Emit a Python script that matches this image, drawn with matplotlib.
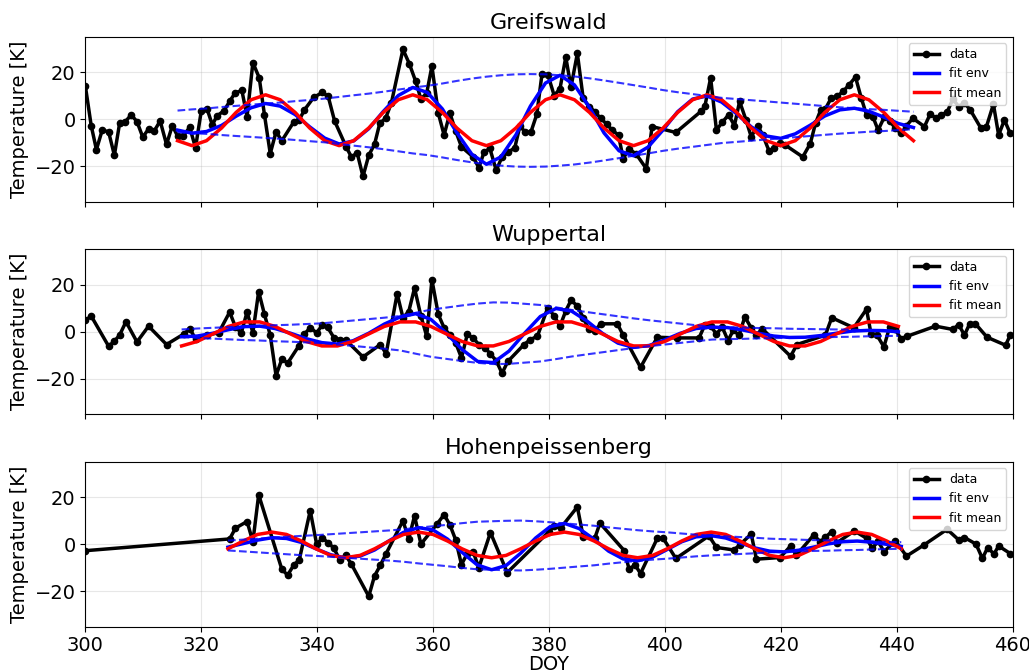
import matplotlib
matplotlib.use("Agg")
import matplotlib.pyplot as plt

# ---------------------------------------------------------------- data
stations = ["Greifswald", "Wuppertal", "Hohenpeissenberg"]

# observed temperature anomalies (DOY, K)
gw_doy = [300.0, 301.0, 301.9, 302.9, 304.0, 305.0, 305.9, 306.9, 307.9, 308.9, 309.9, 310.9, 311.9,
          312.9, 314.0, 315.0, 315.9, 316.9, 318.0, 319.0, 320.0, 321.0, 321.9, 322.7, 323.9, 324.9,
          325.8, 327.0, 327.9, 328.9, 330.0, 330.9, 331.9, 332.9, 333.9, 336.0, 336.9, 337.8, 339.4,
          340.9, 341.9, 343.0, 345.0, 345.9, 346.9, 347.9, 348.9, 349.9, 350.8, 351.8, 352.8, 354.8,
          355.9, 357.0, 357.9, 358.9, 359.8, 360.9, 361.9, 362.9, 363.9, 364.9, 366.9, 367.9, 368.8,
          369.8, 370.9, 371.9, 372.9, 374.1, 375.0, 375.9, 376.9, 377.9, 378.8, 379.8, 380.9, 381.9,
          382.9, 383.8, 384.9, 385.9, 386.9, 387.9, 388.9, 390.0, 390.9, 392.0, 392.8, 393.8, 395.0,
          396.8, 397.8, 401.9, 406.3, 406.9, 407.9, 408.9, 409.9, 411.0, 412.0, 412.9, 414.0, 414.9,
          416.0, 416.9, 418.0, 418.8, 419.9, 420.8, 423.8, 425.1, 426.0, 426.9, 427.7, 428.7, 429.7,
          430.8, 431.8, 432.9, 433.9, 434.8, 435.9, 436.8, 437.9, 438.8, 439.8, 440.8, 441.7, 442.8,
          444.8, 445.8, 446.8, 447.7, 448.7, 449.7, 450.7, 451.7, 452.7, 454.5, 455.5, 456.7, 457.6,
          458.6, 459.6]
gw_temp = [14.0, -2.7, -12.9, -4.6, -5.3, -15.3, -1.7, -1.0, 1.9, -1.0, -7.6, -4.1, -4.9,
           -0.7, -10.7, -2.7, -7.1, -7.0, -3.4, -12.1, 3.6, 4.4, -2.4, 1.4, 3.6, 7.6,
           11.1, 12.3, 1.1, 24.1, 17.6, 1.9, -14.6, -5.3, -9.1, -1.0, -0.3, 4.0, 9.3,
           11.4, 9.7, -0.7, -11.7, -16.0, -14.3, -24.3, -15.3, -10.6, -1.7, 0.4, 6.9, 29.7,
           23.6, 16.1, 8.6, 11.1, 22.6, 2.6, -6.7, 2.6, -5.0, -11.7, -16.0, -20.6, -13.9,
           -12.4, -21.7, -16.0, -14.1, -12.1, -2.7, -5.6, -5.3, 2.1, 19.3, 19.0, 10.1, 13.0,
           26.4, 13.7, 28.0, 9.0, 5.4, 3.3, 0.4, -2.1, -4.6, -6.7, -16.7, -12.7, -14.6,
           -21.0, -3.1, -5.6, 3.5, 5.5, 17.6, -4.6, -1.3, 1.9, -2.7, 7.6, -0.3, -7.4,
           -2.7, -6.7, -13.6, -12.4, -9.9, -11.0, -16.0, -10.3, -1.7, 4.0, 4.4, 9.0, 9.7,
           11.9, 14.7, 17.9, 9.0, 1.9, 1.1, -4.6, 1.1, -0.7, -3.9, -6.0, -2.7, 0.4,
           -3.1, 2.3, 0.4, 1.9, 3.0, 8.6, 5.4, 6.9, 4.0, -3.6, -3.1, 6.4, -6.7,
           -0.3, -6.0]

wu_doy = [300.0, 301.0, 304.0, 305.0, 305.9, 307.0, 308.9, 310.9, 314.0, 317.0, 318.0, 319.0, 321.0,
          323.0, 324.9, 325.9, 326.9, 327.9, 328.9, 329.9, 330.9, 331.9, 332.9, 333.9, 334.9, 336.8,
          337.8, 338.8, 339.9, 340.9, 341.8, 342.9, 343.9, 344.9, 347.9, 350.9, 351.9, 353.8, 354.8,
          355.8, 356.8, 357.9, 358.9, 359.8, 360.9, 361.9, 362.9, 363.9, 364.9, 365.9, 366.9, 367.9,
          369.0, 369.9, 370.9, 371.9, 372.9, 375.7, 376.8, 378.0, 379.8, 380.9, 381.9, 382.9, 383.8,
          384.9, 385.9, 386.9, 387.9, 388.9, 391.8, 392.8, 395.8, 398.7, 402.1, 405.9, 406.9, 407.9,
          408.9, 409.9, 410.9, 411.8, 412.8, 413.8, 414.9, 415.8, 416.8, 421.7, 422.8, 427.7, 428.8,
          432.6, 434.8, 435.6, 436.6, 437.8, 438.8, 439.8, 440.7, 441.8, 446.7, 449.7, 450.7, 451.7,
          452.6, 453.6, 455.6, 458.8, 459.6]
wu_temp = [4.9, 6.7, -6.1, -4.0, -1.4, 4.3, -4.3, 2.4, -5.4, -0.9, 1.3, -2.9, -1.4,
           -0.4, 8.4, 2.0, -0.4, 8.4, -0.4, 17.1, 7.4, -1.4, -18.6, -11.6, -13.3, -6.1,
           -0.9, 1.7, -0.4, 2.9, 2.0, -2.6, -3.3, -3.4, -10.7, -5.4, -9.3, 16.2, 6.0,
           8.6, 18.6, 6.7, -1.9, 22.1, 7.4, 1.7, -1.4, -4.7, -11.1, -1.1, -2.6, -5.4,
           -6.9, -9.4, -12.3, -17.6, -12.6, -5.4, -3.3, -1.9, 10.3, 6.7, 2.4, 8.9, 13.4,
           11.0, 6.0, 1.0, 0.3, 3.4, 3.4, -1.4, -15.1, -2.3, -2.6, -2.6, 2.9, 2.4,
           -0.9, 2.0, -3.7, 0.6, -1.4, 6.3, 1.7, -1.4, 1.3, -10.4, -5.4, -1.4, 6.0,
           1.7, 9.6, -1.1, -1.4, -6.4, 2.1, 1.0, -2.9, -1.9, 2.4, 1.0, 3.1, -1.4,
           3.4, 3.4, -2.3, -5.7, -1.4]

hp_doy = [300.0, 324.9, 325.9, 327.9, 328.9, 329.9, 333.9, 334.9, 336.0, 336.9, 338.8, 339.9, 340.9,
          341.9, 342.9, 343.9, 344.9, 345.9, 348.9, 349.9, 350.9, 351.9, 354.8, 355.8, 356.8, 357.9,
          360.7, 361.9, 362.9, 363.9, 364.9, 365.9, 366.9, 367.9, 369.9, 372.8, 380.0, 380.9, 382.0,
          384.9, 385.9, 387.9, 388.8, 393.0, 393.8, 394.9, 395.8, 398.7, 399.7, 401.9, 407.6, 408.9,
          411.9, 412.9, 414.9, 415.8, 419.9, 421.7, 422.7, 425.7, 426.8, 427.7, 428.8, 429.7, 432.7,
          434.8, 435.8, 436.8, 437.8, 439.8, 441.7, 444.7, 448.7, 450.7, 451.7, 453.7, 454.8, 455.7,
          456.8, 457.6, 459.6]
hp_temp = [-2.7, 2.3, 6.9, 9.7, 1.1, 21.1, -10.6, -13.1, -8.6, -6.7, 14.3, 0.1, 2.6,
           0.7, -1.7, -6.7, -4.6, -8.4, -22.1, -13.4, -8.9, -3.9, 10.0, 2.3, 12.1, 0.1,
           8.7, 12.6, 8.3, 1.9, -8.6, -3.9, -3.1, -9.9, 5.0, -12.0, 5.4, 7.6, 6.9,
           15.9, 3.3, 2.6, 9.0, -2.7, -10.3, -8.9, -12.4, 2.6, 2.6, -6.0, 3.6, -1.3,
           -2.4, -0.3, 4.4, -6.3, -5.6, -0.7, -4.6, 4.0, 1.1, 3.0, 5.4, 0.7, 5.7,
           2.6, -1.7, 1.4, -3.1, 1.4, -5.0, -0.3, 6.4, 1.9, 2.9, 0.1, -6.0, -1.4,
           -4.1, -0.7, -3.9]

# fitted curves, sampled along the fit window (DOY, K)
gw_fit_doy = [315.9, 318.4, 320.9, 323.5, 326.0, 328.6, 331.1, 333.6, 336.2, 338.7, 341.3, 343.8, 346.3,
              348.9, 351.4, 354.0, 356.5, 359.0, 361.6, 364.1, 366.7, 369.2, 371.7, 374.3, 376.8, 379.4,
              381.9, 384.4, 387.0, 389.5, 392.1, 394.6, 397.1, 399.7, 402.2, 404.8, 407.3, 409.8, 412.4,
              414.9, 417.5, 420.0, 422.5, 425.1, 427.6, 430.2, 432.7, 435.2, 437.8, 440.3, 442.9]
gw_mean = [-9.1, -11.2, -9.1, -3.7, 2.9, 8.3, 10.4, 8.3, 2.9, -3.7,
           -9.1, -11.2, -9.1, -3.7, 2.9, 8.3, 10.4, 8.3, 2.9, -3.7,
           -9.1, -11.2, -9.1, -3.7, 2.9, 8.3, 10.4, 8.3, 2.9, -3.7,
           -9.1, -11.2, -9.1, -3.7, 2.9, 8.3, 10.4, 8.3, 2.9, -3.7,
           -9.1, -11.2, -9.1, -3.7, 2.9, 8.3, 10.4, 8.3, 2.9, -3.7, -9.1]
gw_env = [-4.6, -5.9, -5.2, -2.6, 1.3, 4.9, 6.7, 5.6, 2.0, -3.2,
          -8.0, -10.5, -9.2, -4.0, 3.3, 10.1, 13.5, 11.4, 4.4, -5.7,
          -14.9, -19.1, -16.0, -6.6, 5.6, 15.4, 18.7, 14.6, 5.0, -5.8,
          -13.4, -15.5, -11.8, -4.5, 3.2, 8.6, 9.9, 7.3, 2.3, -3.2,
          -7.1, -8.1, -6.2, -2.5, 1.4, 4.0, 4.7, 3.4, 0.9, -1.8, -3.5]
gw_env_hi = [3.7, 4.2, 4.6, 5.2, 5.7, 6.2, 6.7, 7.1, 7.7, 8.2, 8.8, 9.5, 10.2,
             10.9, 11.7, 12.6, 13.5, 14.2, 15.2, 16.3, 17.3, 18.1, 18.7, 19.1, 19.2, 19.1,
             18.7, 18.2, 17.4, 16.5, 15.5, 14.5, 13.5, 12.4, 11.5, 10.7, 9.9, 9.1, 8.6,
             8.1, 7.6, 7.1, 6.6, 6.1, 5.6, 5.1, 4.7, 4.3, 4.0, 3.6, 3.2]
gw_env_lo = [-5.5, -5.9, -6.2, -6.7, -7.1, -7.5, -7.9, -8.3, -8.8, -9.3, -9.8, -10.5, -11.2,
             -11.9, -12.7, -13.6, -14.5, -15.2, -16.2, -17.3, -18.3, -19.1, -19.7, -20.1, -20.2, -20.1,
             -19.7, -19.2, -18.4, -17.5, -16.5, -15.5, -14.5, -13.4, -12.5, -11.7, -10.9, -10.1, -9.6,
             -9.1, -8.6, -8.1, -7.6, -7.1, -6.6, -6.1, -5.7, -5.3, -5.0, -4.6, -4.2]

wu_fit_doy = [316.6, 319.3, 322.0, 324.7, 327.4, 330.1, 332.7, 335.4, 338.1, 340.8, 343.5, 346.2, 348.9,
              351.6, 354.3, 357.0, 359.6, 362.3, 365.0, 367.7, 370.4, 373.1, 375.8, 378.5, 381.2, 383.9,
              386.5, 389.2, 391.9, 394.6, 397.3, 400.0, 402.7, 405.4, 408.1, 410.8, 413.4, 416.1, 418.8,
              421.5, 424.2, 426.9, 429.6, 432.3, 435.0, 437.7, 440.3]
wu_mean = [-6.0, -4.1, -0.9, 2.3, 4.2, 4.2, 2.3, -0.9, -4.1, -6.0,
           -6.0, -4.1, -0.9, 2.3, 4.2, 4.2, 2.3, -0.9, -4.1, -6.0,
           -6.0, -4.1, -0.9, 2.3, 4.2, 4.2, 2.3, -0.9, -4.1, -6.0,
           -6.0, -4.1, -0.9, 2.3, 4.2, 4.2, 2.3, -0.9, -4.1, -6.0,
           -6.0, -4.1, -0.9, 2.3, 4.2, 4.2, 2.3]
wu_env = [-2.1, -1.8, -0.6, 0.9, 2.2, 2.4, 1.4, -0.6, -2.9, -4.6,
          -5.2, -3.8, -0.6, 3.3, 6.3, 7.7, 5.3, -0.6, -7.5, -12.6,
          -13.1, -8.2, -0.6, 6.5, 9.9, 8.8, 4.7, -0.6, -4.8, -6.6,
          -5.8, -3.4, -0.6, 1.4, 2.0, 1.8, 0.8, -0.6, -1.8, -2.4,
          -2.3, -1.6, -0.6, 0.3, 0.6, 0.5, 0.0]
wu_env_hi = [1.0, 1.4, 1.7, 2.0, 2.3, 2.5, 2.8, 3.0, 3.3, 3.6, 4.2, 4.8, 5.4,
             6.0, 6.7, 8.1, 9.4, 10.3, 11.2, 12.0, 12.5, 12.4, 11.9, 11.4, 10.4, 9.3,
             8.4, 7.5, 6.6, 5.7, 4.9, 4.2, 3.5, 2.8, 2.1, 1.9, 1.8, 1.6, 1.5,
             1.3, 1.2, 1.1, 1.0, 0.9, 0.7, 0.6, 0.5]
wu_env_lo = [-2.2, -2.6, -2.9, -3.2, -3.5, -3.7, -4.0, -4.2, -4.5, -4.8, -5.4, -6.0, -6.6,
             -7.2, -7.9, -9.3, -10.6, -11.5, -12.4, -13.2, -13.7, -13.6, -13.1, -12.6, -11.6, -10.5,
             -9.6, -8.7, -7.8, -6.9, -6.1, -5.4, -4.7, -4.0, -3.3, -3.1, -3.0, -2.8, -2.7,
             -2.5, -2.4, -2.3, -2.2, -2.1, -1.9, -1.8, -1.7]

hp_fit_doy = [324.6, 327.2, 329.7, 332.2, 334.7, 337.3, 339.8, 342.3, 344.8, 347.4, 349.9, 352.4, 354.9,
              357.5, 360.0, 362.5, 365.0, 367.6, 370.1, 372.6, 375.1, 377.7, 380.2, 382.7, 385.2, 387.8,
              390.3, 392.8, 395.3, 397.9, 400.4, 402.9, 405.4, 408.0, 410.5, 413.0, 415.5, 418.1, 420.6,
              423.1, 425.6, 428.2, 430.7, 433.2, 435.7, 438.3, 440.8]
hp_mean = [-1.9, 1.4, 4.2, 5.2, 4.2, 1.4, -1.9, -4.7, -5.7, -4.7,
           -1.9, 1.4, 4.2, 5.2, 4.2, 1.4, -1.9, -4.7, -5.7, -4.7,
           -1.9, 1.4, 4.2, 5.2, 4.2, 1.4, -1.9, -4.7, -5.7, -4.7,
           -1.9, 1.4, 4.2, 5.2, 4.2, 1.4, -1.9, -4.7, -5.7, -4.7,
           -1.9, 1.4, 4.2, 5.2, 4.2, 1.4, -1.9]
hp_env = [-1.2, 0.3, 1.8, 2.8, 2.5, 0.8, -1.9, -4.4, -5.7, -5.0,
          -2.4, 1.5, 5.1, 7.1, 6.1, 2.2, -3.4, -8.7, -10.8, -9.0,
          -3.8, 2.7, 7.5, 8.9, 6.7, 2.1, -2.9, -6.2, -7.0, -5.4,
          -2.2, 1.1, 3.2, 3.7, 2.7, 0.6, -1.5, -2.9, -3.2, -2.5,
          -1.2, 0.2, 1.1, 1.4, 0.9, 0.0, -0.9]
hp_env_hi = [1.6, 2.0, 2.4, 2.8, 3.2, 3.6, 3.9, 4.3, 4.7, 5.1, 5.5, 5.9, 6.4,
             7.1, 7.7, 8.3, 9.0, 9.6, 9.8, 10.0, 10.1, 9.8, 9.4, 8.9, 8.4, 7.9,
             7.2, 6.6, 6.0, 5.5, 5.1, 4.6, 4.1, 3.7, 3.4, 3.1, 2.8, 2.4, 2.2,
             2.0, 1.8, 1.7, 1.5, 1.4, 1.2, 1.0, 0.9]
hp_env_lo = [-2.6, -3.0, -3.4, -3.8, -4.2, -4.6, -4.9, -5.3, -5.7, -6.1, -6.5, -6.9, -7.4,
             -8.1, -8.7, -9.3, -10.0, -10.6, -10.8, -11.0, -11.1, -10.8, -10.4, -9.9, -9.4, -8.9,
             -8.2, -7.6, -7.0, -6.5, -6.1, -5.6, -5.1, -4.7, -4.4, -4.1, -3.8, -3.4, -3.2,
             -3.0, -2.8, -2.7, -2.5, -2.4, -2.2, -2.0, -1.9]

panels = [
    (gw_doy, gw_temp, gw_fit_doy, gw_env, gw_mean, gw_env_hi, gw_env_lo),
    (wu_doy, wu_temp, wu_fit_doy, wu_env, wu_mean, wu_env_hi, wu_env_lo),
    (hp_doy, hp_temp, hp_fit_doy, hp_env, hp_mean, hp_env_hi, hp_env_lo),
]

# ---------------------------------------------------------------- plot
fig, axes = plt.subplots(3, 1, figsize=(10.29, 6.71), dpi=100, sharex=True)
fig.subplots_adjust(left=0.083, right=0.984, bottom=0.066, top=0.945, hspace=0.29)

for ax, name, (d, t, fd, env, mean, hi, lo) in zip(axes, stations, panels):
    ax.plot(d, t, "k.-", lw=2.5, ms=9, label="data")
    ax.plot(fd, env, color="b", lw=2.5, label="fit env")
    ax.plot(fd, mean, color="r", lw=2.5, label="fit mean")
    ax.plot(fd, hi, "b--", lw=1.5, alpha=0.8)
    ax.plot(fd, lo, "b--", lw=1.5, alpha=0.8)
    ax.set_title(name, fontsize=16)
    ax.set_ylabel("Temperature [K]", fontsize=14)
    ax.set_ylim(-35, 35)
    ax.set_yticks([-20, 0, 20])
    ax.grid(True, alpha=0.3)
    ax.tick_params(labelsize=14)
    ax.legend(loc="upper right", fontsize=9)

axes[-1].set_xlim(300, 460)
axes[-1].set_xlabel("DOY", fontsize=14, labelpad=0)

fig.savefig("out.png")
